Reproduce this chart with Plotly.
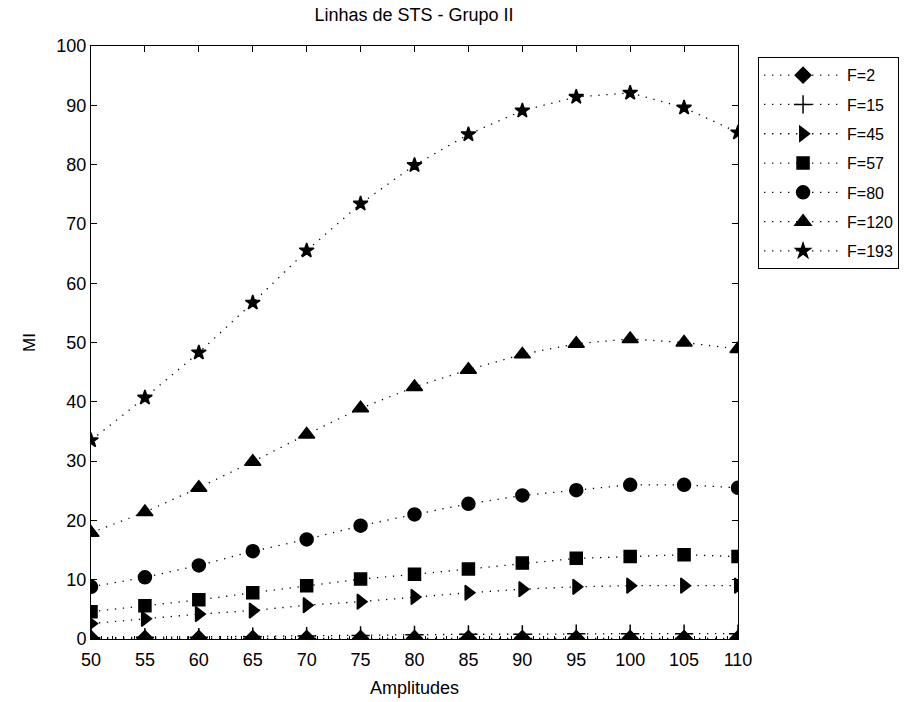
import plotly.graph_objects as go

# Amplitude values on the x axis
amplitudes = [50, 55, 60, 65, 70, 75, 80, 85, 90, 95, 100, 105, 110]

# MI for each STS line, one list per F
mi_f2 = [0.1, 0.1, 0.1, 0.1, 0.1, 0.1, 0.1, 0.1, 0.1, 0.1, 0.1, 0.1, 0.1]
mi_f15 = [0.2, 0.3, 0.3, 0.4, 0.5, 0.6, 0.7, 0.8, 0.8, 0.9, 0.9, 0.9, 0.9]
mi_f45 = [2.6, 3.4, 4.2, 4.8, 5.7, 6.3, 7.1, 7.8, 8.4, 8.8, 9.0, 9.0, 9.0]
mi_f57 = [4.6, 5.6, 6.6, 7.8, 9.0, 10.1, 10.9, 11.8, 12.8, 13.6, 13.9, 14.2, 13.9]
mi_f80 = [8.8, 10.4, 12.4, 14.8, 16.8, 19.1, 21.0, 22.8, 24.2, 25.1, 26.0, 26.0, 25.5]
mi_f120 = [17.9, 21.4, 25.5, 29.9, 34.5, 38.9, 42.5, 45.4, 48.0, 49.8, 50.6, 50.0, 48.9]
mi_f193 = [33.5, 40.7, 48.3, 56.7, 65.5, 73.4, 79.9, 85.1, 89.1, 91.4, 92.1, 89.6, 85.4]

series_names = ["F=2", "F=15", "F=45", "F=57", "F=80", "F=120", "F=193"]
series_values = [mi_f2, mi_f15, mi_f45, mi_f57, mi_f80, mi_f120, mi_f193]

x_ticks = [50, 55, 60, 65, 70, 75, 80, 85, 90, 95, 100, 105, 110]
y_ticks = [0, 10, 20, 30, 40, 50, 60, 70, 80, 90, 100]

symbols = ["diamond", "cross-thin-open", "triangle-right", "square", "circle",
           "triangle-up", "star"]
sizes = [12, 13, 13, 12, 13, 14, 11]

FONT = "Liberation Sans"

fig = go.Figure()
for i, (name, vals) in enumerate(zip(series_names, series_values)):
    fig.add_trace(go.Scatter(
        x=amplitudes, y=vals, name=name, mode="lines+markers",
        legendgroup=name,
        line=dict(color="black", width=1.3, dash="1.3px,6.7px"),
        marker=dict(symbol=symbols[i], size=sizes[i], color="black",
                    line=dict(color="black", width=1.5)),
    ))

# invisible trace so the top tick axis is drawn
fig.add_trace(go.Scatter(x=[50, 110], y=[0, 0], xaxis="x2", mode="markers",
                         marker=dict(opacity=0), showlegend=False,
                         hoverinfo="skip"))

axis_common = dict(showgrid=False, zeroline=False, linecolor="black",
                   linewidth=1, tickcolor="black", automargin=False)

fig.update_layout(
    width=915, height=702,
    margin=dict(l=91, r=177, t=46, b=63, autoexpand=False),
    paper_bgcolor="white", plot_bgcolor="white",
    font=dict(family=FONT, size=18, color="black"),
    title=dict(text="Linhas de STS - Grupo II", x=414 / 915, xanchor="center",
               y=1 - 15 / 702, yanchor="middle", font=dict(size=18)),
    showlegend=True,
    legend=dict(x=1.031, y=0.981, xanchor="left", yanchor="top",
                bordercolor="black", borderwidth=1, bgcolor="white",
                font=dict(size=16), tracegroupgap=5.5, itemwidth=78),
    xaxis=dict(range=[50, 110], tickvals=x_ticks, ticktext=[str(v) for v in x_ticks],
               showline=True, mirror=True, ticks="inside", ticklen=6,
               ticklabelstandoff=4,
               minor=dict(dtick=1, ticks="inside", ticklen=3, tickcolor="black"),
               title=dict(text="Amplitudes", standoff=12, font=dict(size=18)),
               **axis_common),
    xaxis2=dict(range=[50, 110], tickvals=x_ticks, overlaying="x", side="top",
                showticklabels=False, showline=False, ticks="inside", ticklen=6,
                **axis_common),
    yaxis=dict(range=[0, 100], tickvals=y_ticks, ticktext=[str(v) for v in y_ticks],
               showline=True, mirror="ticks", ticks="inside", ticklen=6,
               title=dict(text="MI", standoff=16, font=dict(size=17)),
               **axis_common),
)

fig.write_html("out.html")
